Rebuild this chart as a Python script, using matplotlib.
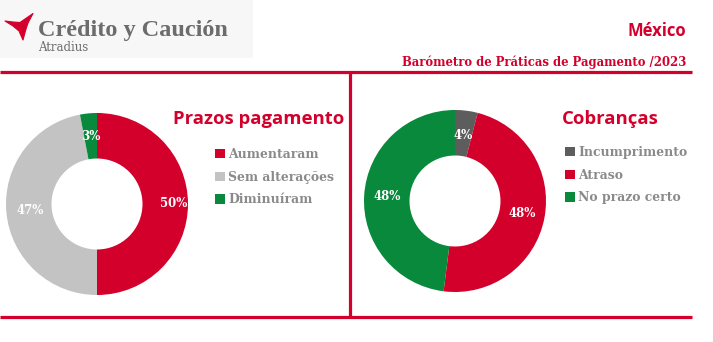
import matplotlib
matplotlib.use("Agg")
import matplotlib.pyplot as plt
import numpy as np
from matplotlib.patches import Rectangle, Polygon

# ---- data ----
prazos_labels = ["Aumentaram", "Sem alterações", "Diminuíram"]
prazos_values = [50, 47, 3]
cobr_labels = ["Incumprimento", "Atraso", "No prazo certo"]
cobr_values = [4, 48, 48]

title_left = "Prazos pagamento"
title_right = "Cobranças"
country = "México"
subtitle = "Barómetro de Práticas de Pagamento /2023"

RED = "#d3002c"
GREEN = "#08893b"
LGREY = "#c3c3c3"
DGREY = "#5d5d5d"
TXTGREY = "#8a8a8a"
LOGOGREY = "#6c6c6c"

prazos_colors = [RED, LGREY, GREEN]
cobr_colors = [DGREY, RED, GREEN]

SANS = "Open Sans"

W, H = 713, 342
fig = plt.figure(figsize=(W / 100, H / 100), dpi=100)
fig.patch.set_facecolor("white")

# overlay in pixel coordinates for header, frame lines and titles
ov = fig.add_axes([0, 0, 1, 1])
ov.set_xlim(0, W)
ov.set_ylim(H, 0)
ov.axis("off")

# logo area
ov.add_patch(Rectangle((0, 0), 253, 58, facecolor="#f7f7f7", edgecolor="none"))
logo_pts = [(5, 21), (13, 22), (20, 22.5), (33, 13.5), (28, 23), (26, 29),
            (23, 40), (19, 31), (13, 26)]
ov.add_patch(Polygon(logo_pts, closed=True, facecolor=RED, edgecolor=RED,
                     lw=0.8, joinstyle="round"))
ov.text(38, 36, "Crédito y Caución", fontfamily="Liberation Serif", fontweight="bold",
        fontsize=17.5, color=LOGOGREY, ha="left", va="baseline")
ov.text(38, 51, "Atradius", fontfamily="DejaVu Serif", fontsize=8.5,
        color=LOGOGREY, ha="left", va="baseline")

ov.text(686, 36, country, fontfamily=SANS, fontweight="bold", fontsize=12,
        color=RED, ha="right", va="baseline")
ov.text(686, 66, subtitle, fontfamily="DejaVu Serif", fontweight="bold", fontsize=8.4,
        color=RED, ha="right", va="baseline")

# frame lines
lw = 2.3
ov.plot([0, 692], [72, 72], color=RED, lw=lw, solid_capstyle="butt")
ov.plot([0, 692], [317, 317], color=RED, lw=lw, solid_capstyle="butt")
ov.plot([350, 350], [72, 317], color=RED, lw=lw, solid_capstyle="butt")

ov.text(173, 124, title_left, fontfamily=SANS, fontweight="bold", fontsize=13.3,
        color=RED, ha="left", va="baseline")
ov.text(562, 124, title_right, fontfamily=SANS, fontweight="bold", fontsize=13.3,
        color=RED, ha="left", va="baseline")


def donut(cx, cy, r, values, colors, labels, label_r, legend_xy):
    pax = fig.add_axes([(cx - r) / W, 1 - (cy + r) / H, 2 * r / W, 2 * r / H])
    wedges, _ = pax.pie(values, colors=colors, startangle=90, counterclock=False,
                        radius=1, wedgeprops=dict(width=0.5, edgecolor="none"))
    pax.set_xlim(-1, 1)
    pax.set_ylim(-1, 1)
    pax.set_aspect("equal")
    for w, v, dr in zip(wedges, values, label_r):
        ang = np.deg2rad((w.theta1 + w.theta2) / 2)
        pax.text(dr * np.cos(ang), dr * np.sin(ang), f"{v}%", ha="center", va="center",
                 color="white", fontfamily="DejaVu Serif", fontweight="bold", fontsize=8.5)
    leg = pax.legend(wedges, labels, loc="upper left",
                     bbox_to_anchor=(legend_xy[0] / W, 1 - legend_xy[1] / H),
                     bbox_transform=fig.transFigure, frameon=False, borderpad=0,
                     borderaxespad=0, handlelength=0.8, handleheight=0.8,
                     handletextpad=0.25, labelspacing=0.78,
                     prop=dict(family="DejaVu Serif", weight="bold", size=8.9))
    for t in leg.get_texts():
        t.set_color(TXTGREY)
    return pax


donut(97, 204, 91, prazos_values, prazos_colors, prazos_labels,
      [0.84, 0.74, 0.75], (215, 148))
donut(455, 201, 91, cobr_values, cobr_colors, cobr_labels,
      [0.73, 0.75, 0.75], (565, 146))

fig.savefig("out.png", dpi=100, facecolor="white")
